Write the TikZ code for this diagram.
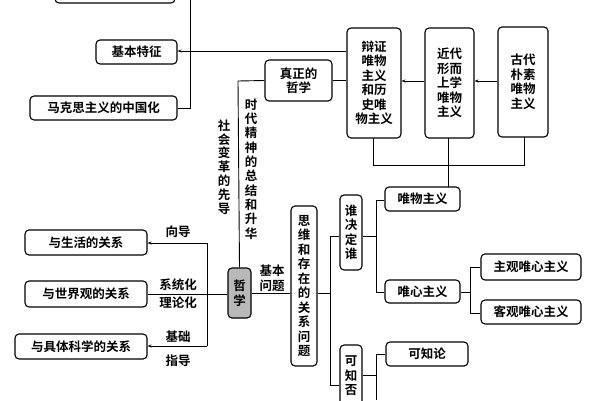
\documentclass[tikz,border=0pt]{standalone}
\usepackage{fontspec}
\setmainfont{Noto Sans CJK SC}[BoldFont={Noto Sans CJK SC Bold}]
\usetikzlibrary{arrows.meta}
\begin{document}
\begin{tikzpicture}[x=1pt,y=-1pt,font=\bfseries\fontsize{12.5}{14.5}\selectfont,
 bx/.style={draw,line width=1.1pt,rounded corners=4pt,inner sep=0pt},
 ln/.style={line width=0.9pt},
 ar/.style={line width=0.9pt,-{Stealth[length=4pt,width=3pt]}},
 lb/.style={inner sep=0pt,align=center}]
\useasboundingbox (0,0) rectangle (600,400);
\newcommand{\bxat}[6]{\node[bx,minimum width=#4-#2,minimum height=#5-#3,align=center] (#1) at ({(#2+#4)/2},{(#3+#5)/2}) {#6};}
\bxat{top}{55}{-20}{175}{3}{}
\bxat{jbtz}{96}{40}{177}{64}{基本特征}
\bxat{mks}{30}{96}{177}{120}{马克思主义的中国化}
\bxat{zzd}{265}{60}{332}{101}{真正的\\哲学}
\bxat{bz}{347}{28}{401}{138}{辩证\\唯物\\主义\\和历\\史唯\\物主义}
\bxat{jd}{425}{28}{474}{138}{近代\\形而\\上学\\唯物\\主义}
\bxat{gd}{498}{27}{548}{137}{古代\\朴素\\唯物\\主义}
\bxat{wwzy}{385}{187}{460}{211}{唯物主义}
\bxat{sjds}{340}{195}{362}{270}{谁\\决\\定\\谁}
\bxat{wxzy}{385}{280}{460}{303}{唯心主义}
\bxat{zg}{481}{254}{581}{280}{主观唯心主义}
\bxat{kg}{481}{300}{581}{324}{客观唯心主义}
\bxat{sw}{291}{206}{317}{366}{思\\维\\和\\存\\在\\的\\关\\系\\问\\题}
\bxat{kzf}{340}{345}{362}{420}{可\\知\\否\\ }
\bxat{kzl}{386}{342}{468}{366}{可知论}
\node[bx,fill=gray!55,minimum width=23,minimum height=50,align=center] (zx) at (239.5,293) {哲\\学};
\bxat{shh}{25}{230}{147}{255}{与生活的关系}
\bxat{sjg}{25}{281}{147}{307}{与世界观的关系}
\bxat{jtkx}{15}{334}{147}{359}{与具体科学的关系}
% left top
\draw[ln] (190,0) -- (190,108) -- (mks.east|-0,108);
\draw[ln] (bz.west|-0,51) -- (190,51);
\draw[ar] (190,51) -- (jbtz.east|-0,51);
\draw[ln] (zzd.east) -- (bz.west|-zzd.east);
\draw[ln] (zzd.west) -- (238,81) -- (zx.north);
\draw[ar] (jd.west|-0,81) -- (bz.east|-0,81);
\draw[ar] (gd.west|-0,81) -- (jd.east|-0,81);
\draw[ln] (373,138) -- (373,165) -- (524,165) -- (524,137);
\draw[ln] (448,138) -- (448,187);
\node[lb,font=\bfseries\fontsize{12.5}{13.8}\selectfont] at (224,167) {社\\会\\变\\革\\的\\先\\导};
\node[lb,font=\bfseries\fontsize{12.5}{14.3}\selectfont] at (251,169) {时\\代\\精\\神\\的\\总\\结\\和\\升\\华};
% right
\draw[ln] (zx.east|-0,293) -- (sw.west|-0,293);
\node[lb] at (272,278) {基本\\问题};
\draw[ln] (sw.east|-0,293) -- (330,293);
\draw[ln] (330,236) -- (330,385);
\draw[ln] (330,236) -- (sjds.west|-0,236);
\draw[ln] (330,385) -- (kzf.west|-0,385);
\draw[ln] (sjds.east|-0,236) -- (376,236);
\draw[ln] (wwzy.west|-0,200) -- (376,200) -- (376,292) -- (wxzy.west|-0,292);
\draw[ln] (wxzy.east|-0,292) -- (470,292);
\draw[ln] (zg.west|-0,267) -- (470,267) -- (470,313) -- (kg.west|-0,313);
\draw[ln] (kzl.west|-0,354) -- (376,354) -- (376,400);
\draw[ln] (kzf.east|-0,375) -- (376,375);
% left bottom
\draw[ln] (zx.west|-0,294) -- (sjg.east|-0,294);
\draw[ln] (207,243) -- (207,346);
\draw[ar] (207,243) -- (shh.east|-0,243);
\draw[ar] (207,346) -- (jtkx.east|-0,346);
\node[lb] at (178,232) {向导};
\node[lb] at (178,285) {系统化};
\node[lb] at (178,303) {理论化};
\node[lb] at (178,337) {基础};
\node[lb] at (178,361) {指导};
\end{tikzpicture}
\end{document}
